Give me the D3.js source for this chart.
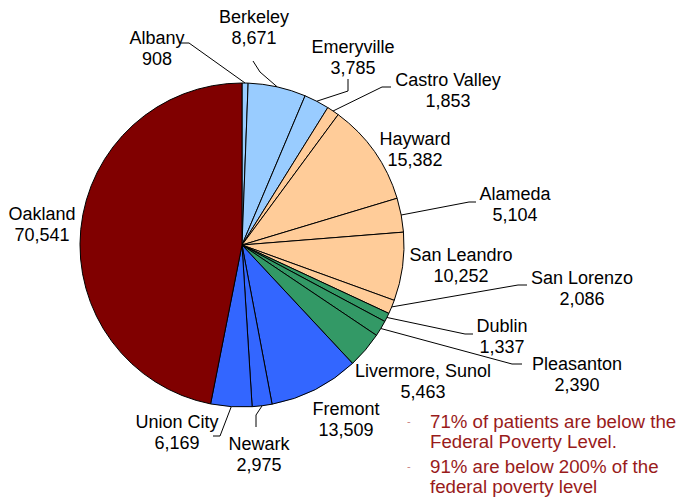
<!DOCTYPE html>
<meta charset="utf-8">
<body style="margin:0;background:#fff">
<svg width="678" height="497"></svg>
<script src="https://d3js.org/d3.v7.min.js"></script>
<script>
// patients by city, clockwise from 12 o'clock
var cities = ["Albany", "Berkeley", "Emeryville", "Castro Valley", "Hayward", "Alameda",
  "San Leandro", "San Lorenzo", "Dublin", "Pleasanton", "Livermore, Sunol",
  "Fremont", "Newark", "Union City", "Oakland"];
var patients = [908, 8671, 3785, 1853, 15382, 5104, 10252, 2086, 1337, 2390, 5463,
  13509, 2975, 6169, 70541];
var regions = ["north", "north", "north", "central", "central", "central", "central",
  "central", "east", "east", "east", "south", "south", "south", "oakland"];
var notes = [
  ["71% of patients are below the", "Federal Poverty Level."],
  ["91% are below 200% of the", "federal poverty level"]
];

var regionColor = d3.scaleOrdinal()
  .domain(["north", "central", "east", "south", "oakland"])
  .range(["#99ccff", "#ffcc99", "#339966", "#3366ff", "#800000"]);

// label placement: centre x, first baseline y
var labelPos = [[157, 44], [254, 23], [353, 53], [448, 86], [415, 145], [515, 200],
  [461, 261], [582, 284], [502, 332], [577, 370], [423, 377],
  [346, 415], [259, 450], [177, 428], [42, 220]];
// leader line start + knee, the end is on the slice edge
var leaders = [
  [[180, 43], [189, 43]],
  [[253, 61], [260, 72]],
  [[348, 79], [348, 91]],
  [[391, 87], [382, 87]],
  null,
  [[476, 202], [469, 202]],
  null,
  [[527, 285], [518, 285]],
  [[473, 334], [465, 334]],
  [[522, 364], [512, 364]],
  null, null,
  [[256, 427], [256, 415]],
  [[213, 436], [220, 436]],
  null
];

var cx = 242, cy = 245, r = 162;
var svg = d3.select("svg");
var font = "'Liberation Sans', Arial, sans-serif";

var data = cities.map(function(c, i) { return {city: c, value: patients[i], region: regions[i], i: i}; });
var pie = d3.pie().sort(null).value(function(d) { return d.value; });
var arcs = pie(data);
var arc = d3.arc().innerRadius(0).outerRadius(r);
var edge = d3.arc().innerRadius(r).outerRadius(r);

var g = svg.append("g").attr("transform", "translate(" + cx + "," + cy + ")");
g.selectAll("path")
  .data(arcs)
  .enter().append("path")
    .attr("d", arc)
    .attr("fill", function(d) { return regionColor(d.data.region); })
    .attr("stroke", "#000")
    .attr("stroke-width", 1)
    .attr("stroke-linejoin", "round");

// leader lines
var line = d3.line();
svg.append("g").selectAll("path")
  .data(arcs.filter(function(d) { return leaders[d.data.i]; }))
  .enter().append("path")
    .attr("d", function(d) {
      var p = edge.centroid(d);
      var L = leaders[d.data.i];
      return line([L[0], L[1], [p[0] + cx, p[1] + cy]]);
    })
    .attr("fill", "none")
    .attr("stroke", "#000")
    .attr("stroke-width", 1);

var fmt = d3.format(",");
var lab = svg.append("g")
  .attr("font-family", font)
  .attr("font-size", 18)
  .attr("text-anchor", "middle")
  .attr("fill", "#000");
lab.selectAll("text.name")
  .data(data)
  .enter().append("text")
    .attr("x", function(d) { return labelPos[d.i][0]; })
    .attr("y", function(d) { return labelPos[d.i][1]; })
    .text(function(d) { return d.city; });
lab.selectAll("text.val")
  .data(data)
  .enter().append("text")
    .attr("x", function(d) { return labelPos[d.i][0]; })
    .attr("y", function(d) { return labelPos[d.i][1] + 21; })
    .text(function(d) { return fmt(d.value); });

// notes
var ng = svg.append("g").attr("font-family", font);
notes.forEach(function(n, k) {
  var y0 = 428 + k * 45;
  ng.append("text")
    .attr("x", 407).attr("y", y0 - 3)
    .attr("font-size", 11)
    .attr("fill", "#c98080")
    .text("-");
  n.forEach(function(t, j) {
    ng.append("text")
      .attr("x", 430).attr("y", y0 + j * 20)
      .attr("font-size", 18.7)
      .attr("fill", "#991b1b")
      .text(t);
  });
});
</script>
</body>
